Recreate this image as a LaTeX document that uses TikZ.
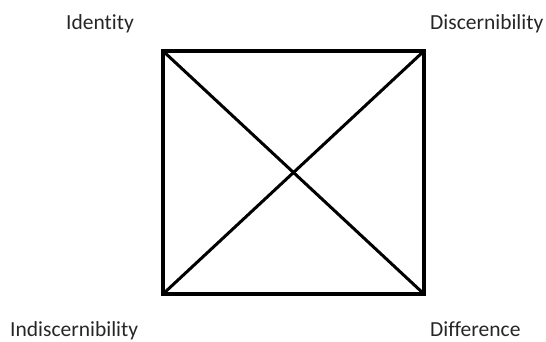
\documentclass[tikz,border=0pt]{standalone}
\usepackage{fontspec}
\setmainfont[Ligatures=NoCommon]{Carlito}
\usepackage{tikz}
\usetikzlibrary{positioning}

\begin{document}
\begin{tikzpicture}[
    x=1pt, y=-1pt,
    term/.style={inner sep=0pt, anchor=base west, font=\fontsize{21.5}{24}\selectfont, text=black!85},
    edge/.style={line width=4pt, line cap=rect},
    diag/.style={line width=3pt}
]
\useasboundingbox (0,0) rectangle (546,342);

\coordinate (tl) at (163,51);
\coordinate (tr) at (424,51);
\coordinate (bl) at (163,294);
\coordinate (br) at (424,294);

\node[term] (identity) at (66,30) {Identity};
\node[term] (discern) at (430,30) {Discernibility};
\node[term] (indiscern) at (10,336) {Indiscernibility};
\node[term] (difference) at (430,336) {Difference};

\draw[edge] (tl) rectangle (br);
\draw[diag] (tl) -- (br);
\draw[diag] (bl) -- (tr);

\end{tikzpicture}
\end{document}
